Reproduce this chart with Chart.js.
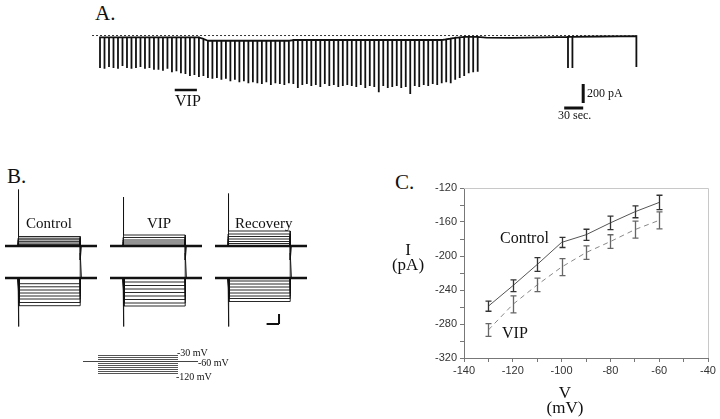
<!DOCTYPE html>
<html>
<head>
<meta charset="utf-8">
<script src="https://cdn.jsdelivr.net/npm/chart.js@4.4.0/dist/chart.umd.min.js"></script>
<style>
	body { margin: 0; width: 720px; height: 419px; background: #fff; position: relative; overflow: hidden; font-family: "Liberation Serif", serif; color: #111; }
	canvas { position: absolute; }
	.t { position: absolute; white-space: nowrap; line-height: 1; }
</style>
</head>
<body>
<div class="t" style="left:95px;top:3px;font-size:21px">A.</div>
<div class="t" style="left:7px;top:166px;font-size:21px">B.</div>
<div class="t" style="left:395px;top:172px;font-size:21px">C.</div>

<canvas id="traceA" width="555" height="100" style="left:90px;top:28px"></canvas>
<div class="t" style="left:175px;top:93px;font-size:16px">VIP</div>
<div class="t" style="left:587px;top:87px;font-size:12px">200 pA</div>
<div class="t" style="left:558px;top:109px;font-size:12px">30 sec.</div>

<canvas id="stepControl" width="92" height="145" style="left:5px;top:185px"></canvas>
<canvas id="stepVip" width="92" height="145" style="left:110px;top:185px"></canvas>
<canvas id="stepRecovery" width="92" height="145" style="left:215px;top:185px"></canvas>
<div class="t" style="left:26px;top:216px;font-size:15px">Control</div>
<div class="t" style="left:147px;top:216px;font-size:15px">VIP</div>
<div class="t" style="left:235px;top:216px;font-size:15px">Recovery</div>

<canvas id="protocol" width="125" height="30" style="left:80px;top:350px"></canvas>
<div class="t" style="left:177px;top:348px;font-size:10px">-30 mV</div>
<div class="t" style="left:198px;top:358px;font-size:10px">-60 mV</div>
<div class="t" style="left:176px;top:372px;font-size:10px">-120 mV</div>

<canvas id="ivChart" width="325" height="215" style="left:395px;top:170px"></canvas>
<div class="t" style="left:388px;top:242px;width:40px;text-align:center;font-size:17px;line-height:15px">I<br>(pA)</div>
<div class="t" style="left:545px;top:385px;width:40px;text-align:center;font-size:17px;line-height:15px">V<br>(mV)</div>
<div class="t" style="left:500px;top:230px;font-size:16px">Control</div>
<div class="t" style="left:502px;top:325px;font-size:16px">VIP</div>

<script>
// A. holding current record, one test pulse every few seconds
const sweepInterval = 7.1 // s
const sweepPeak = [
	-340, -350, -330, -340, -350, -320, -340, -350, -340, -330, -350, -340, -360,
	-360, -370, -350, -385, -375,
	-395, -405, -425, -415, -435, -425,
	-445, -455, -445, -465, -455, -480,
	-465, -490, -480, -500, -490, -500,
	-510, -490, -520, -500, -510, -520, -500,
	-510, -550, -520, -510, -530,
	-520, -540, -510, -530, -520, -540, -530, -520,
	-530, -540, -520, -550, -530, -540, -595,
	-530, -550, -540, -530, -550, -540, -615,
	-530, -540, -520, -530, -510, -520, -500,
	-490, -500, -465, -445, -425, -395, -385, -380,
]
const sweepHold = [
	-20, -20, -20, -20, -20, -20, -20, -20, -20, -20, -20, -20, -20, -20, -20, -20, -20, -20, -20, -20, -20, -20, -20,
	-35,
	-55, -55, -55, -55, -55, -55, -55, -55, -55, -55, -55, -55, -55, -55, -55, -55, -55, -55, -55,
	-47, -47, -47, -47, -47, -47, -47, -47, -47, -47, -47, -47, -47, -47, -47, -47, -47,
	-47, -47, -47, -47, -47, -47, -47, -47, -47, -47, -47, -47, -47, -47, -47, -47, -47,
	-40, -32, -25, -20, -15, -15, -15, -15,
]
const washTime = [610, 650, 700, 790, 848]
const washHold = [-22, -25, -20, -10, -6]
const lateSweepTime = [739, 746, 847]
const lateSweepHold = [-15, -15, -6]
const lateSweepPeak = [-340, -340, -330]
const vipApplied = [118, 153] // s
const scaleBarA = { t: 763, pA: 200, s: 30, bottom: -709, timeLevel: -761 }

// B. current families during voltage steps (pA, relative to holding)
const stepOn = 0
const stepOff = 100 // ms
const outwardControl = [95, 78, 62, 46, 30, 16]
const inwardControl = [-57, -88, -120, -150, -180, -210, -245, -277]
const outwardVip = [110, 85, 60, 40, 20]
const inwardVip = [-40, -75, -110, -145, -180, -215, -250, -280]
const outwardRecovery = [150, 120, 95, 70, 45, 25]
const inwardRecovery = [-30, -60, -90, -120, -150, -180, -205, -235]
const transientOut = [565, 490, 525]
const transientIn = [-485, -485, -485]
const tailOut = -140
const tailIn = 250
const familyGap = -320
const scaleBarB = { t0: 62, t1: 82, top: -680, bottom: -780 }

// protocol (mV)
const holdingPotential = -60
const stepPotentials = [-30, -40, -50, -70, -80, -90, -100, -110, -120]

// C. I-V relation
const voltage = [-130, -120, -110, -100, -90, -80, -70, -60]
const controlCurrent = [-259, -235, -210, -184, -175, -161, -148, -137]
const controlErr = [6, 7, 8, 6, 6.5, 8, 7, 8.5]
const vipCurrent = [-287, -257, -234, -213, -196, -183, -169, -158]
const vipErr = [7.5, 10, 8, 10, 8, 8, 10, 10]

Chart.defaults.font.family = '"Liberation Sans", Arial, sans-serif'

const baseOptions = (xMin, xMax, yMin, yMax) => ({
	responsive: false,
	animation: false,
	devicePixelRatio: 1,
	layout: { padding: 0 },
	plugins: { legend: { display: false }, tooltip: { enabled: false } },
	elements: { point: { radius: 0 }, line: { tension: 0 } },
	scales: {
		x: { type: 'linear', display: false, min: xMin, max: xMax },
		y: { type: 'linear', display: false, min: yMin, max: yMax },
	},
})

const seg = (points, color, width, dash) => ({
	data: points,
	borderColor: color,
	borderWidth: width,
	borderDash: dash || [],
	fill: false,
	pointRadius: 0,
})

// ---- panel A
function drawRecord() {
	const points = Array()
	sweepPeak.map((peak, i) => {
		const t = i * sweepInterval
		points.push({ x: t, y: sweepHold[i] }, { x: t, y: peak }, { x: t, y: sweepHold[i] })
	})
	const late = Array()
	washTime.map((t, i) => late.push([{ x: t, y: washHold[i] }]))
	lateSweepTime.map((t, i) => {
		late.push([{ x: t, y: lateSweepHold[i] }, { x: t, y: lateSweepPeak[i] }, { x: t, y: lateSweepHold[i] }])
	})
	late.sort((a, b) => a[0].x - b[0].x)
	late.map((group) => points.push(...group))

	new Chart(document.getElementById('traceA'), {
		type: 'line',
		data: {
			datasets: [
				seg([{ x: -12.6, y: 0 }, { x: 848, y: 0 }], '#333', 1, [2, 2]),
				seg(points, '#111', 1.8),
				seg([{ x: vipApplied[0], y: -572 }, { x: vipApplied[1], y: -572 }], '#111', 2.5),
				seg([{ x: scaleBarA.t, y: scaleBarA.bottom + scaleBarA.pA }, { x: scaleBarA.t, y: scaleBarA.bottom }], '#111', 3),
				seg([{ x: scaleBarA.t - scaleBarA.s, y: scaleBarA.timeLevel }, { x: scaleBarA.t, y: scaleBarA.timeLevel }], '#111', 3),
			],
		},
		options: baseOptions(-15.8, 860.6, -971, 79),
	})
}

// ---- panel B
function drawFamily(canvasID, outward, inward, spikeUp, spikeDown, extra) {
	const datasets = Array()
	outward.map((level, i) => {
		const pts = [{ x: stepOn, y: 0 }]
		if (i === 0) pts.push({ x: stepOn, y: spikeUp }, { x: stepOn + 1.5, y: level })
		else pts.push({ x: stepOn, y: level })
		pts.push({ x: stepOff, y: level })
		if (i === 0) pts.push({ x: stepOff, y: tailOut }, { x: stepOff + 2, y: 0 })
		else pts.push({ x: stepOff, y: 0 })
		datasets.push(seg(pts, '#111', 0.9))
	})
	inward.map((level, i) => {
		const pts = [{ x: stepOn, y: familyGap }]
		if (i === 0) pts.push({ x: stepOn, y: familyGap + spikeDown }, { x: stepOn + 1.5, y: familyGap + inward[inward.length - 1] })
		pts.push({ x: stepOn + 1.5, y: familyGap + level }, { x: stepOff, y: familyGap + level })
		if (i === 0) pts.push({ x: stepOff, y: familyGap + tailIn }, { x: stepOff + 2, y: familyGap })
		else pts.push({ x: stepOff, y: familyGap })
		datasets.push(seg(pts, '#111', 0.9))
	})
	datasets.push(seg([{ x: -21, y: 0 }, { x: 127, y: 0 }], '#111', 2.4))
	datasets.push(seg([{ x: -21, y: familyGap }, { x: 127, y: familyGap }], '#111', 2.4))
	if (extra) datasets.push(...extra)

	new Chart(document.getElementById(canvasID), {
		type: 'line',
		data: { datasets },
		options: baseOptions(-21, 127, -840, 610),
	})
}

function drawProtocol() {
	const datasets = stepPotentials.map((v) => seg([{ x: stepOn, y: v }, { x: stepOff, y: v }], '#555', 1))
	datasets.push(seg([{ x: -18.75, y: holdingPotential }, { x: 125, y: holdingPotential }], '#444', 1))
	new Chart(document.getElementById('protocol'), {
		type: 'line',
		data: { datasets },
		options: baseOptions(-22.5, 133.75, -152.5, -2.5),
	})
}

// ---- panel C
const errorBars = {
	id: 'errorBars',
	afterDatasetsDraw(chart) {
		const { ctx } = chart
		const x = chart.scales.x
		const y = chart.scales.y
		chart.data.datasets.forEach((ds) => {
			if (!ds.errors) return
			ctx.save()
			ctx.strokeStyle = ds.errorColor
			ctx.lineWidth = 1.3
			ctx.setLineDash([])
			ds.data.forEach((p, i) => {
				const px = Math.round(x.getPixelForValue(p.x)) + 0.5
				const top = y.getPixelForValue(p.y + ds.errors[i])
				const bot = y.getPixelForValue(p.y - ds.errors[i])
				ctx.beginPath()
				ctx.moveTo(px, top)
				ctx.lineTo(px, bot)
				ctx.moveTo(px - 3, top)
				ctx.lineTo(px + 3, top)
				ctx.moveTo(px - 3, bot)
				ctx.lineTo(px + 3, bot)
				ctx.stroke()
			})
			ctx.restore()
		})
	},
}

const frame = {
	id: 'frame',
	afterDraw(chart) {
		const { ctx, chartArea: a } = chart
		ctx.save()
		ctx.strokeStyle = '#c8c8c8'
		ctx.lineWidth = 1
		ctx.beginPath()
		ctx.moveTo(a.left, a.top + 0.5)
		ctx.lineTo(a.right + 0.5, a.top + 0.5)
		ctx.lineTo(a.right + 0.5, a.bottom)
		ctx.stroke()
		ctx.restore()
	},
}

function drawIV() {
	new Chart(document.getElementById('ivChart'), {
		type: 'line',
		data: {
			datasets: [
				{
					label: 'Control',
					data: voltage.map((v, i) => ({ x: v, y: controlCurrent[i] })),
					borderColor: '#555',
					borderWidth: 1,
					pointRadius: 0,
					errors: controlErr,
					errorColor: '#333',
				},
				{
					label: 'VIP',
					data: voltage.map((v, i) => ({ x: v, y: vipCurrent[i] })),
					borderColor: '#888',
					borderWidth: 1,
					borderDash: [5, 4],
					pointRadius: 0,
					errors: vipErr,
					errorColor: '#666',
				},
			],
		},
		options: {
			responsive: false,
			animation: false,
			devicePixelRatio: 1,
			layout: { padding: { top: 18, right: 12, left: 0, bottom: 0 } },
			plugins: { legend: { display: false }, tooltip: { enabled: false } },
			scales: {
				x: {
					type: 'linear',
					min: -140,
					max: -40,
					ticks: {
						stepSize: 10,
						autoSkip: false,
						maxRotation: 0,
						padding: 2,
						color: '#333',
						font: { size: 11 },
						callback: (v) => (v % 20 === 0 ? v : ''),
					},
					grid: { drawOnChartArea: false, tickLength: 4, color: '#777' },
					border: { color: '#777' },
					afterFit(scale) { scale.height = 27 },
				},
				y: {
					min: -320,
					max: -120,
					ticks: {
						stepSize: 20,
						autoSkip: false,
						padding: 3,
						color: '#333',
						font: { size: 11 },
						callback: (v) => (v % 40 === 0 ? v : ''),
					},
					grid: { drawOnChartArea: false, tickLength: 4, color: '#777' },
					border: { color: '#777' },
					afterFit(scale) { scale.width = 69 },
				},
			},
		},
		plugins: [errorBars, frame],
	})
}

drawRecord()
drawFamily('stepControl', outwardControl, inwardControl, transientOut[0], transientIn[0])
drawFamily('stepVip', outwardVip, inwardVip, transientOut[1], transientIn[1])
drawFamily('stepRecovery', outwardRecovery, inwardRecovery, transientOut[2], transientIn[2], [
	seg([{ x: scaleBarB.t1, y: scaleBarB.top }, { x: scaleBarB.t1, y: scaleBarB.bottom }], '#111', 2),
	seg([{ x: scaleBarB.t0, y: scaleBarB.bottom }, { x: scaleBarB.t1, y: scaleBarB.bottom }], '#111', 2),
])
drawProtocol()
drawIV()
</script>
</body>
</html>
